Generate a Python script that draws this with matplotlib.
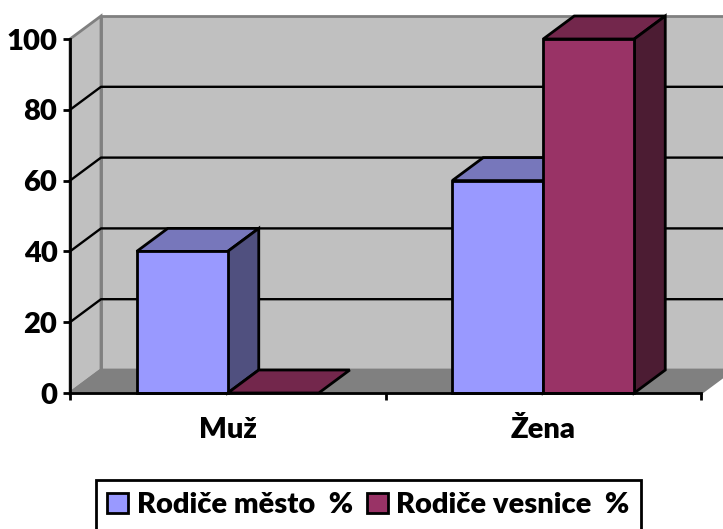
import matplotlib
matplotlib.use('Agg')
import matplotlib.pyplot as plt
from matplotlib.patches import Polygon, Patch

categories = ['Muž', 'Žena']
series_names = ['Rodiče město  %', 'Rodiče vesnice  %']
mesto = [40, 60]
vesnice = [0, 100]
y_ticks = [0, 20, 40, 60, 80, 100]

plt.rcParams['font.family'] = ['Lato', 'DejaVu Sans']
plt.rcParams['font.weight'] = 'heavy'

W, H = 723, 529
fig = plt.figure(figsize=(W / 100, H / 100), dpi=100)
ax = fig.add_axes([70 / W, (H - 393) / H, 631 / W, 354 / H])
ax.set_xlim(0, 2)
ax.set_ylim(0, 100)

# depth of the fake 3D box, in data units (31 px right, 23 px up)
dx = 31 / 631 * 2
dy = 23 / 354 * 100
lw = 2.0


def poly(pts, face, edge='black', z=2, width=lw):
    ax.add_patch(Polygon(pts, closed=True, facecolor=face, edgecolor=edge,
                         linewidth=width, zorder=z, clip_on=False, joinstyle='miter'))


def bar3d(x0, w, v, front, top, side, z):
    poly([(x0, v), (x0 + dx, v + dy), (x0 + w + dx, v + dy), (x0 + w, v)], top, z=z)
    if v > 0:
        poly([(x0 + w, 0), (x0 + w + dx, dy), (x0 + w + dx, v + dy), (x0 + w, v)], side, z=z)
        poly([(x0, 0), (x0 + w, 0), (x0 + w, v), (x0, v)], front, z=z)


# walls and floor
poly([(dx, dy), (2 + dx, dy), (2 + dx, 100 + dy), (dx, 100 + dy)], '#C0C0C0', '#808080', z=1)
poly([(0, 0), (dx, dy), (dx, 100 + dy), (0, 100)], '#C0C0C0', '#808080', z=1)
poly([(0, 0), (2, 0), (2 + dx, dy), (dx, dy)], '#808080', '#808080', z=1)

for t in y_ticks[1:-1]:
    ax.plot([0, dx, 2 + dx], [t, t + dy, t + dy], color='black', lw=1.7, zorder=1.5, clip_on=False)

bar_w = 91 / 631 * 2
for i in range(len(categories)):
    c = i + 0.5
    bar3d(c - bar_w, bar_w, mesto[i], '#9999FF', '#7777BB', '#50507F', 3)
    bar3d(c, bar_w, vesnice[i], '#993366', '#73274C', '#4C1C33', 3)

for s in ['top', 'right']:
    ax.spines[s].set_visible(False)
for s in ['left', 'bottom']:
    ax.spines[s].set_linewidth(lw)
    ax.spines[s].set_zorder(4)
ax.patch.set_visible(False)

ax.set_yticks(y_ticks)
ax.set_yticklabels([str(t) for t in y_ticks], fontsize=21, fontweight='heavy')
ax.set_xticks([0, 1, 2])
ax.set_xticklabels([])
ax.set_xticks([0.5, 1.5], minor=True)
ax.set_xticklabels(categories, minor=True, fontsize=21, fontweight='heavy')
ax.tick_params(axis='x', which='minor', length=0, pad=17)
ax.tick_params(axis='both', which='major', length=5, width=lw)
ax.tick_params(axis='y', pad=4)

handles = [Patch(facecolor='#9999FF', edgecolor='black', linewidth=lw),
           Patch(facecolor='#993366', edgecolor='black', linewidth=lw)]
leg = fig.legend(handles, series_names, loc='center', bbox_to_anchor=(368.5 / W, (H - 505) / H),
                 ncol=2, fontsize=21, frameon=True, fancybox=False, edgecolor='black',
                 framealpha=1, handlelength=0.7, handleheight=0.7, handletextpad=0.3,
                 columnspacing=0.5, borderpad=0.4, borderaxespad=0)
leg.get_frame().set_linewidth(lw)

fig.savefig('out.png', dpi=100)
